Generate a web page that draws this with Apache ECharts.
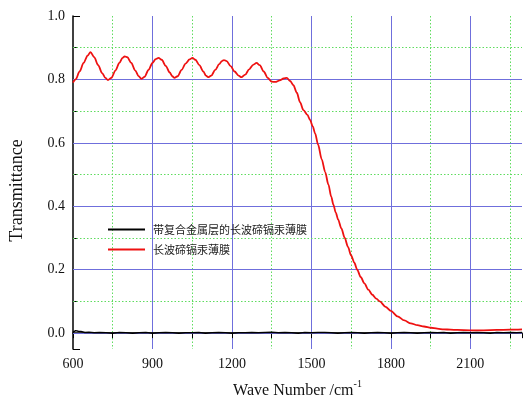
<!DOCTYPE html>
<html>
<head>
<meta charset="utf-8">
<style>html,body{margin:0;padding:0;background:#fff;}#c{width:525px;height:404px;}</style>
<script src="https://cdn.jsdelivr.net/npm/echarts@6/dist/echarts.min.js"></script>
</head>
<body>
<div id="c"></div>
<script>
const seriesNames = ['带复合金属层的长波碲镉汞薄膜', '长波碲镉汞薄膜'];
const xTicks = [600, 900, 1200, 1500, 1800, 2100];
const yTicks = [0.0, 0.2, 0.4, 0.6, 0.8, 1.0];
const yMinor = [0.1, 0.3, 0.5, 0.7, 0.9];
const redX = [600,610,625,640,655,666,680,695,710,722,732,745,760,775,787,795,805,820,835,848,858,870,885,900,912,923,935,950,965,975,983,995,1010,1025,1040,1051,1062,1077,1092,1102,1110,1122,1137,1152,1162,1170,1180,1195,1210,1225,1236,1250,1265,1280,1293,1305,1320,1335,1350,1364,1380,1395,1407,1420,1432,1445,1457,1470,1485,1495,1505,1514,1525,1539,1552,1564,1575,1583,1592,1601,1613,1626,1638,1650,1662,1673,1686,1700,1715,1730,1745,1758,1780,1800,1825,1851,1875,1900,1925,1951,1975,2000,2025,2051,2100,2150,2200,2250,2295];
const redY = [0.790,0.800,0.825,0.852,0.875,0.886,0.870,0.845,0.820,0.805,0.798,0.805,0.828,0.852,0.868,0.873,0.870,0.852,0.828,0.810,0.802,0.808,0.830,0.852,0.864,0.868,0.862,0.843,0.822,0.810,0.805,0.810,0.830,0.850,0.863,0.868,0.862,0.845,0.825,0.812,0.807,0.812,0.830,0.848,0.858,0.861,0.858,0.842,0.825,0.812,0.807,0.815,0.832,0.846,0.852,0.845,0.825,0.805,0.793,0.792,0.797,0.803,0.805,0.795,0.782,0.758,0.728,0.703,0.688,0.672,0.652,0.630,0.595,0.548,0.508,0.469,0.430,0.405,0.380,0.358,0.330,0.300,0.272,0.245,0.222,0.200,0.177,0.157,0.137,0.121,0.109,0.100,0.083,0.070,0.053,0.040,0.031,0.025,0.021,0.017,0.014,0.012,0.011,0.010,0.009,0.009,0.010,0.011,0.012];
const blackX = [600,610,620,630,645,660,680,700,725,750,775,800,825,850,875,900,925,950,975,1000,1025,1050,1075,1100,1125,1150,1175,1200,1225,1250,1275,1300,1325,1350,1375,1400,1425,1450,1475,1500,1525,1550,1575,1600,1625,1650,1675,1700,1725,1750,1775,1800,1825,1850,1875,1900,1925,1950,1975,2000,2025,2050,2075,2100,2125,2150,2175,2200,2225,2250,2275,2295];
const blackY = [0.003,0.008,0.006,0.005,0.002,0.003,0.001,0.002,0.001,0.000,0.002,0.001,0.000,0.001,0.002,0.000,0.001,0.002,0.001,0.000,0.001,0.001,0.002,0.000,0.001,0.002,0.001,0.000,0.001,0.001,0.002,0.001,0.002,0.003,0.001,0.002,0.001,0.000,0.002,0.001,0.002,0.002,0.001,0.000,0.001,0.002,0.001,0.000,0.001,0.002,0.001,0.000,0.001,0.002,0.001,0.000,0.001,0.002,0.001,0.002,0.000,0.001,0.002,0.001,0.002,0.001,0.000,0.002,0.001,0.002,0.001,0.002];

const serif = '"Liberation Serif", "Times New Roman", serif';
const blueGrid = '#6f6fdc';
const greenGrid = '#5fdc5f';

const chart = echarts.init(document.getElementById('c'), null, {renderer: 'canvas'});
chart.setOption({
  animation: false,
  backgroundColor: '#fff',
  grid: {left: 73, top: 16, right: 0, bottom: 55, containLabel: false},
  legend: {
    data: seriesNames, orient: 'vertical', left: 103, top: 219,
    icon: 'rect', itemWidth: 37, itemHeight: 2, itemGap: 9,
    textStyle: {fontSize: 11, fontFamily: '"Noto Sans CJK SC", sans-serif', color: '#222', padding: [0,0,0,3]}
  },
  xAxis: {
    type: 'value', min: 600, max: 2295, minInterval: 300, maxInterval: 300,
    name: '{a|Wave Number /cm}{b|-1}', nameLocation: 'middle', nameGap: 30,
    nameTextStyle: {rich: {
      a: {fontSize: 16, fontFamily: serif, color: '#111', lineHeight: 20, verticalAlign: 'bottom'},
      b: {fontSize: 10, fontFamily: serif, color: '#111', lineHeight: 20, verticalAlign: 'top', padding: [0,0,10,0]}
    }},
    axisLine: {show: true, lineStyle: {color: '#000', width: 1.5}},
    axisTick: {show: true, inside: false, length: 5, lineStyle: {color: '#000'}},
    minorTick: {show: true, splitNumber: 2, length: 5, lineStyle: {color: '#000'}},
    axisLabel: {fontSize: 14, fontFamily: serif, color: '#111', margin: 8,
      formatter: v => (xTicks.indexOf(v) >= 0 ? String(v) : '')},
    splitLine: {show: true, showMinLine: false, showMaxLine: false, lineStyle: {color: blueGrid, width: 1}},
    minorSplitLine: {show: true, lineStyle: {color: greenGrid, width: 1, type: [1.5, 2]}}
  },
  yAxis: {
    type: 'value', min: -0.05, max: 1.0, splitNumber: 5,
    name: 'Transmittance', nameLocation: 'middle', nameGap: 47,
    nameTextStyle: {fontSize: 18, fontFamily: serif, color: '#111', padding: [0, 16, 0, 0]},
    axisLine: {show: true, lineStyle: {color: '#000', width: 1.5}},
    axisTick: {show: true, inside: true, length: 7, lineStyle: {color: '#000'}},
    minorTick: {show: true, splitNumber: 2, length: 4, lineStyle: {color: '#000'}},
    axisLabel: {fontSize: 14, fontFamily: serif, color: '#111', margin: 8,
      formatter: v => { for (const t of yTicks) { if (Math.abs(v - t) < 1e-6) return t.toFixed(1); } return ''; }},
    splitLine: {show: false},
    minorSplitLine: {show: false}
  },
  series: [
    {name: seriesNames[0], type: 'line', showSymbol: false, symbol: 'none',
      lineStyle: {color: '#000', width: 1.5}, itemStyle: {color: '#000'},
      data: blackX.map((x, i) => [x, blackY[i]]), z: 3,
      markLine: {
        silent: true, symbol: 'none', label: {show: false}, z: 1,
        lineStyle: {color: blueGrid, width: 1, type: 'solid'},
        emphasis: {disabled: true},
        data: yTicks.filter(t => t < 1).map(t => ({yAxis: t}))
      }},
    {name: seriesNames[1], type: 'line', showSymbol: false, symbol: 'none',
      smooth: 0.3, smoothMonotone: 'x',
      lineStyle: {color: '#ee1111', width: 1.8}, itemStyle: {color: '#ee1111'},
      data: redX.map((x, i) => [x, redY[i]]), z: 4,
      markLine: {
        silent: true, symbol: 'none', label: {show: false}, z: 1,
        lineStyle: {color: greenGrid, width: 1, type: [1.5, 2]},
        emphasis: {disabled: true},
        data: yMinor.map(t => ({yAxis: t}))
      }}
  ]
});
</script>
</body>
</html>
